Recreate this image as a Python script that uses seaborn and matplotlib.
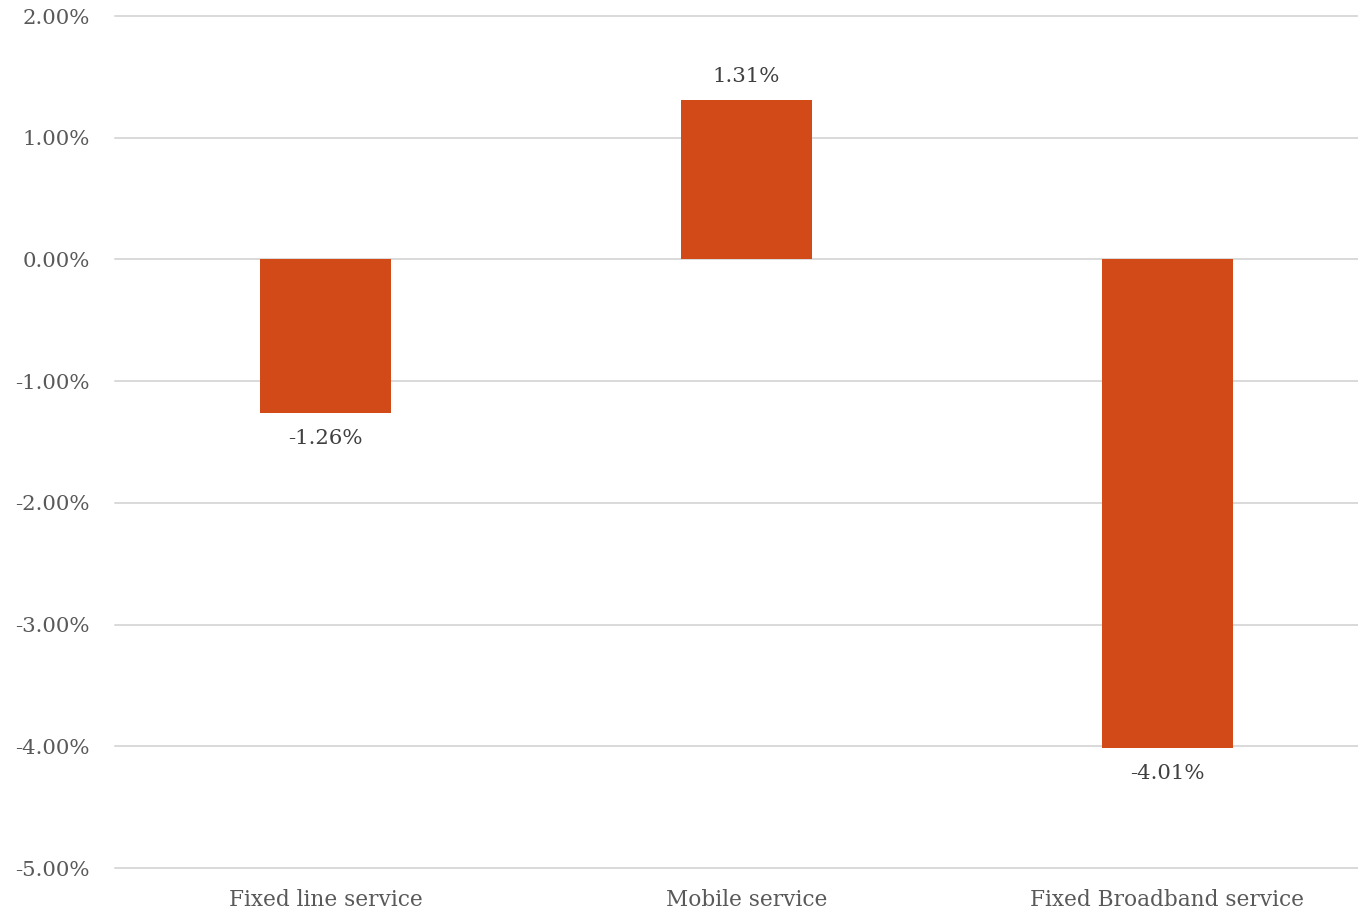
import matplotlib
matplotlib.use("Agg")
import matplotlib.pyplot as plt
import seaborn as sns
import pandas as pd
from matplotlib.ticker import FuncFormatter

categories = ["Fixed line service", "Mobile service", "Fixed Broadband service"]
values = [-1.26, 1.31, -4.01]
yticks = [2, 1, 0, -1, -2, -3, -4, -5]

sns.set_theme(style="white")
plt.rcParams["font.family"] = ["DejaVu Serif"]

df = pd.DataFrame({"category": categories, "value": values})

fig = plt.figure(figsize=(13.58, 9.09), dpi=100)
ax = fig.add_axes([115 / 1358, 1 - 868 / 909, 1263 / 1358, (868 - 16) / 909])

sns.barplot(data=df, x="category", y="value", color="#D24A18", saturation=1,
            width=0.31, ax=ax, zorder=3)
for p in ax.patches:
    p.set_edgecolor("none")

ax.set_ylim(-5, 2)
ax.set_yticks(yticks)
ax.yaxis.set_major_formatter(FuncFormatter(lambda v, _: f"{v:.2f}%"))
ax.grid(axis="y", color="#d9d9d9", linewidth=1.4, zorder=0)
ax.grid(axis="x", visible=False)
for gl in ax.get_ygridlines():
    gl.set_clip_on(False)
for s in ax.spines.values():
    s.set_visible(False)
ax.tick_params(axis="both", length=0, colors="#595959")
ax.tick_params(axis="y", pad=18, labelsize=15.3)
ax.tick_params(axis="x", pad=15, labelsize=15.6)
ax.set_xlabel("")
ax.set_ylabel("")

cont = ax.containers[0]
for bar, v in zip(cont, values):
    ax.bar_label(type(cont)([bar], datavalues=[v], orientation="vertical"),
                 labels=[f"{v:.2f}%"], padding=10 if v > 0 else 12,
                 fontsize=15.3, color="#404040")

fig.savefig("out.png", dpi=100)
